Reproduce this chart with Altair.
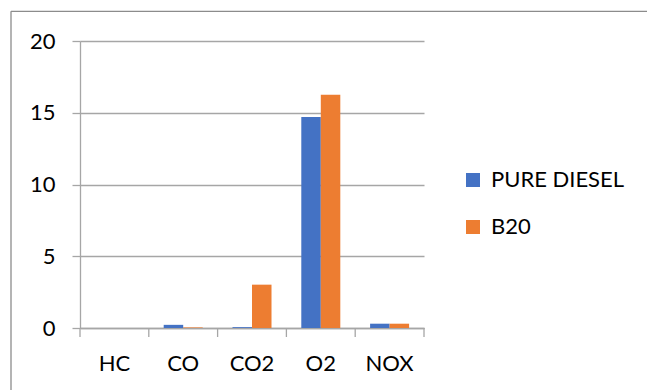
import altair as alt
import pandas as pd

# Exhaust emission readings per gas, for each fuel
gases = ["HC", "CO", "CO2", "O2", "NOX"]
pure_diesel = [0.0, 0.22, 0.06, 14.7, 0.3]
b20 = [0.0, 0.04, 3.02, 16.25, 0.3]
fuels = ["PURE DIESEL", "B20"]
fuel_colors = ["#4472C4", "#ED7D31"]
y_ticks = [0, 5, 10, 15, 20]

rows = []
for g, p, b in zip(gases, pure_diesel, b20):
    rows.append({"gas": g, "fuel": fuels[0], "value": p})
    rows.append({"gas": g, "fuel": fuels[1], "value": b})
df = pd.DataFrame(rows)

W, H = 344, 287
PAD_L, PAD_T = 80, 41
FONT = "Lato"
LINE = "#a6a6a6"
FRAME = "#8c8c8c"

P_INNER = 0.433
P_OUTER = P_INNER / 2
x_scale = alt.Scale(domain=gases, paddingInner=P_INNER, paddingOuter=P_OUTER)
# pixel gap between a band's edge and the category boundary
EDGE_PX = P_OUTER * W / len(gases)

x_axis = alt.Axis(
    title=None,
    ticks=False,
    labelAngle=0,
    labelFont=FONT,
    labelFontSize=22,
    labelColor="#000000",
    labelPadding=25,
    domainColor=LINE,
    domainWidth=1.3,
)

bars = alt.Chart(df).mark_bar().encode(
    x=alt.X("gas:N", scale=x_scale, sort=gases, axis=x_axis),
    xOffset=alt.XOffset(
        "fuel:N", sort=fuels, scale=alt.Scale(domain=fuels, paddingInner=0, paddingOuter=0)
    ),
    y=alt.Y(
        "value:Q",
        scale=alt.Scale(domain=[0, 20]),
        axis=alt.Axis(
            title=None,
            values=y_ticks,
            labelFont=FONT,
            labelFontSize=22,
            labelColor="#000000",
            labelPadding=17,
            tickSize=8,
            tickColor=LINE,
            tickWidth=1.3,
            domainColor=LINE,
            domainWidth=1.3,
            gridColor=LINE,
            gridWidth=1.3,
        ),
    ),
    color=alt.Color(
        "fuel:N",
        sort=fuels,
        scale=alt.Scale(domain=fuels, range=fuel_colors),
        legend=alt.Legend(
            title=None,
            orient="none",
            legendX=382,
            legendY=128,
            symbolType="square",
            symbolSize=196,
            symbolStrokeWidth=0,
            labelFont=FONT,
            labelFontSize=22,
            labelColor="#000000",
            labelOffset=7,
            rowPadding=25,
            padding=0,
        ),
    ),
)

# Category separator ticks below the x axis
sep_df = pd.DataFrame({"gas": gases})
sep_ticks = alt.Chart(sep_df).mark_rule(
    color=LINE, strokeWidth=1.3, xOffset=-EDGE_PX
).encode(
    x=alt.X("gas:N", scale=x_scale, sort=gases, bandPosition=0, axis=x_axis),
    y=alt.value(H),
    y2=alt.value(H + 9),
)
end_tick = alt.Chart(pd.DataFrame({"gas": [gases[-1]]})).mark_rule(
    color=LINE, strokeWidth=1.3, xOffset=EDGE_PX
).encode(
    x=alt.X("gas:N", scale=x_scale, sort=gases, bandPosition=1, axis=x_axis),
    y=alt.value(H),
    y2=alt.value(H + 9),
)

# Chart frame (left and top edges)
frame_df = pd.DataFrame({"edge": ["frame"]})
frame_left = alt.Chart(frame_df).mark_rule(color=FRAME, strokeWidth=1.3).encode(
    x=alt.value(-69), y=alt.value(-29.7), y2=alt.value(H + 80)
)
frame_top = alt.Chart(frame_df).mark_rule(color=FRAME, strokeWidth=1.3).encode(
    x=alt.value(-69), x2=alt.value(647), y=alt.value(-29.7)
)

chart = (
    alt.layer(bars, sep_ticks, end_tick, frame_left, frame_top)
    .properties(
        width=W,
        height=H,
        padding={"left": PAD_L, "top": PAD_T, "right": 647 - PAD_L - W, "bottom": 390 - PAD_T - H},
        autosize=alt.AutoSizeParams(type="none"),
        background="#ffffff",
    )
    .configure_view(stroke=None)
)

chart.save("out.html", embed_options={"renderer": "svg", "actions": False})
